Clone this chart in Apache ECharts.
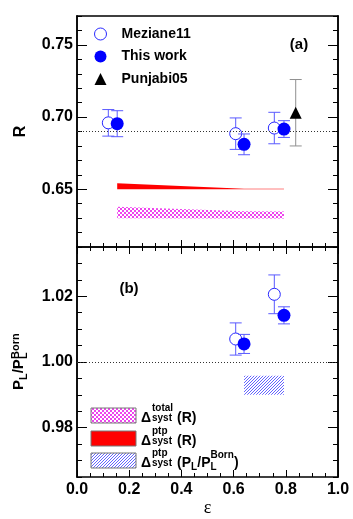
<!DOCTYPE html>
<html>
<head>
<meta charset="utf-8">
<script src="https://cdn.jsdelivr.net/npm/echarts@6/dist/echarts.min.js"></script>
<style>
  html, body { margin: 0; padding: 0; background: #fff; }
  #main { width: 353px; height: 519px; }
</style>
</head>
<body>
<div id="main"></div>
<script>
// panel (a): R vs epsilon
var mezEpsR = [0.12, 0.608, 0.756];
var mezR = [0.696, 0.6885, 0.6924];
var mezRErr = [0.0092, 0.0109, 0.0109];
var thisEpsR = [0.154, 0.64, 0.793];
var thisR = [0.6954, 0.6811, 0.6917];
var thisRErr = [0.009, 0.0072, 0.0058];
var punjEps = [0.838];
var punjR = [0.703];
var punjErr = [0.023];
var refR = 0.689;

// systematic bands in (a)
var bandEps = [0.154, 0.64, 0.793];
var totLo = [0.6300, 0.6298, 0.6298];
var totHi = [0.6378, 0.6347, 0.6346];
var ptpLo = [0.6500, 0.6500, 0.6500];
var ptpHi = [0.6541, 0.6504, 0.6503];

// panel (b): P_L / P_L^Born
var mezEpsP = [0.608, 0.756];
var mezP = [1.007, 1.0206];
var mezPErr = [0.0049, 0.0059];
var thisEpsP = [0.64, 0.793];
var thisP = [1.0055, 1.0142];
var thisPErr = [0.0029, 0.0026];
var refP = 1.0;
var pBandEps = [0.64, 0.793];
var pBandLo = [0.990, 0.990];
var pBandHi = [0.9958, 0.9958];

// axes
var xTicks = [0, 1, 0.2];
var rRange = [0.61, 0.77];
var rMajor = [0.65, 0.70, 0.75];
var rMinorStep = 0.01;
var pRange = [0.965, 1.035];
var pMajor = [0.98, 1.00, 1.02];
var pMinorStep = 0.005;

var myChart = echarts.init(document.getElementById('main'));

function tile(size, draw) {
  var c = document.createElement('canvas');
  c.width = size; c.height = size;
  var g = c.getContext('2d');
  g.fillStyle = '#ffffff'; g.fillRect(0, 0, size, size);
  draw(g);
  return { image: c, repeat: 'repeat' };
}
var pinkFill = tile(4, function (g) {
  g.fillStyle = '#ee44ee';
  g.fillRect(0, 0, 2, 2); g.fillRect(2, 2, 2, 2);
});
var blueFill = tile(3, function (g) {
  g.fillStyle = 'rgb(100,100,255)';
  for (var i = 0; i < 3; i++) g.fillRect(i, 2 - i, 1, 1);
});

function zip3(a, b, c) {
  return a.map(function (v, i) { return [v, b[i], c[i]]; });
}
function zip2(a, b) {
  return a.map(function (v, i) { return [v, b[i]]; });
}

function errRender(color) {
  return function (params, api) {
    var x = api.value(0), y = api.value(1), e = api.value(2);
    var t = api.coord([x, y + e]), b = api.coord([x, y - e]);
    var hw = 6;
    var st = { stroke: color, lineWidth: 1 };
    return { type: 'group', children: [
      { type: 'line', shape: { x1: t[0], y1: t[1], x2: b[0], y2: b[1] }, style: st },
      { type: 'line', shape: { x1: t[0] - hw, y1: t[1], x2: t[0] + hw, y2: t[1] }, style: st },
      { type: 'line', shape: { x1: b[0] - hw, y1: b[1], x2: b[0] + hw, y2: b[1] }, style: st }
    ]};
  };
}
function bandRender(eps, lo, hi, fill) {
  return function (params, api) {
    if (params.dataIndex > 0) return null;
    var pts = [];
    for (var i = 0; i < eps.length; i++) pts.push(api.coord([eps[i], hi[i]]));
    for (var j = eps.length - 1; j >= 0; j--) pts.push(api.coord([eps[j], lo[j]]));
    return { type: 'polygon', shape: { points: pts }, style: { fill: fill } };
  };
}

var black = '#000';
var lineSt = { show: true, lineStyle: { color: black, width: 1.5 } };
var bold16 = { fontFamily: 'Liberation Sans', fontWeight: 'bold', fontSize: 16, color: black };

function xAxis(grid, pos, ticks, labels) {
  return {
    type: 'value', gridIndex: grid, position: pos,
    min: xTicks[0], max: xTicks[1], interval: xTicks[2],
    axisLine: lineSt,
    axisTick: { show: ticks, inside: true, length: 7, lineStyle: { color: black } },
    minorTick: { show: ticks, splitNumber: 4, length: 4, lineStyle: { color: black } },
    axisLabel: { show: labels, margin: 5, formatter: function (v) { return v.toFixed(1); }, textStyle: bold16 },
    splitLine: { show: false }
  };
}
function yMajor(grid, pos, range, major, label) {
  return {
    type: 'value', gridIndex: grid, position: pos,
    min: range[0], max: range[1],
    axisLine: lineSt,
    axisTick: { inside: true, length: 10, customValues: major, lineStyle: { color: black } },
    axisLabel: { show: label, customValues: major, margin: 4,
      formatter: function (v) { return v.toFixed(2); }, textStyle: bold16 },
    splitLine: { show: false }
  };
}
function yMinor(grid, pos, range, step) {
  return {
    type: 'value', gridIndex: grid, position: pos,
    min: range[0], max: range[1], interval: step,
    axisLine: lineSt,
    axisTick: { inside: true, length: 5, lineStyle: { color: black } },
    axisLabel: { show: false },
    splitLine: { show: false }
  };
}

var yAxes = [
  yMajor(0, 'left', rRange, rMajor, true),
  yMinor(0, 'left', rRange, rMinorStep),
  yMajor(0, 'right', rRange, rMajor, false),
  yMinor(0, 'right', rRange, rMinorStep),
  yMajor(1, 'left', pRange, pMajor, true),
  yMinor(1, 'left', pRange, pMinorStep),
  yMajor(1, 'right', pRange, pMajor, false),
  yMinor(1, 'right', pRange, pMinorStep)
];
yAxes[0].name = 'R';
yAxes[0].nameLocation = 'middle';
yAxes[0].nameRotate = 90;
yAxes[0].nameGap = 48;
yAxes[0].nameTextStyle = bold16;

var xAxes = [
  xAxis(0, 'bottom', true, false),
  xAxis(0, 'top', false, false),
  xAxis(1, 'bottom', true, true),
  xAxis(1, 'top', true, false)
];
xAxes[2].name = 'ε';
xAxes[2].nameLocation = 'middle';
xAxes[2].nameGap = 18;
xAxes[2].nameTextStyle = { fontFamily: 'Liberation Serif', fontSize: 18, color: black };

var blueErr = '#5a5aff';
var dotted = function (v) {
  return { silent: true, symbol: 'none', label: { show: false },
    lineStyle: { type: [1, 2], color: '#333', width: 1 }, data: [{ yAxis: v }] };
};
var openStyle = { color: '#ffffff', borderColor: '#2a2aff', borderWidth: 1, opacity: 1 };
var fullStyle = { color: '#0000ff', opacity: 1 };

var series = [
  { type: 'custom', name: 'totR', xAxisIndex: 0, yAxisIndex: 0, z: 1,
    renderItem: bandRender(bandEps, totLo, totHi, pinkFill), data: zip2(bandEps, totHi) },
  { type: 'custom', name: 'ptpR', xAxisIndex: 0, yAxisIndex: 0, z: 1,
    renderItem: bandRender(bandEps, ptpLo, ptpHi, '#ff0000'), data: zip2(bandEps, ptpHi) },
  { type: 'custom', name: 'mezErrR', xAxisIndex: 0, yAxisIndex: 0, z: 2,
    renderItem: errRender(blueErr), encode: { x: 0, y: 1 }, data: zip3(mezEpsR, mezR, mezRErr) },
  { type: 'scatter', name: 'Meziane11', xAxisIndex: 0, yAxisIndex: 0, z: 3,
    symbol: 'circle', symbolSize: 12, itemStyle: openStyle,
    data: zip2(mezEpsR, mezR) },
  { type: 'custom', name: 'thisErrR', xAxisIndex: 0, yAxisIndex: 0, z: 4,
    renderItem: errRender(blueErr), encode: { x: 0, y: 1 }, data: zip3(thisEpsR, thisR, thisRErr) },
  { type: 'scatter', name: 'This work', xAxisIndex: 0, yAxisIndex: 0, z: 5,
    symbol: 'circle', symbolSize: 13, itemStyle: fullStyle,
    data: zip2(thisEpsR, thisR), markLine: dotted(refR) },
  { type: 'custom', name: 'punjErr', xAxisIndex: 0, yAxisIndex: 0, z: 4,
    renderItem: errRender('#909090'), encode: { x: 0, y: 1 }, data: zip3(punjEps, punjR, punjErr) },
  { type: 'scatter', name: 'Punjabi05', xAxisIndex: 0, yAxisIndex: 0, z: 5,
    symbol: 'triangle', symbolSize: 12, itemStyle: { color: black, opacity: 1 },
    data: zip2(punjEps, punjR) },

  { type: 'custom', name: 'ptpP', xAxisIndex: 2, yAxisIndex: 4, z: 1,
    renderItem: bandRender(pBandEps, pBandLo, pBandHi, blueFill), data: zip2(pBandEps, pBandHi) },
  { type: 'custom', name: 'mezErrP', xAxisIndex: 2, yAxisIndex: 4, z: 2,
    renderItem: errRender(blueErr), encode: { x: 0, y: 1 }, data: zip3(mezEpsP, mezP, mezPErr) },
  { type: 'scatter', name: 'Meziane11', xAxisIndex: 2, yAxisIndex: 4, z: 3,
    symbol: 'circle', symbolSize: 12, itemStyle: openStyle,
    data: zip2(mezEpsP, mezP) },
  { type: 'custom', name: 'thisErrP', xAxisIndex: 2, yAxisIndex: 4, z: 4,
    renderItem: errRender(blueErr), encode: { x: 0, y: 1 }, data: zip3(thisEpsP, thisP, thisPErr) },
  { type: 'scatter', name: 'This work', xAxisIndex: 2, yAxisIndex: 4, z: 5,
    symbol: 'circle', symbolSize: 13, itemStyle: fullStyle,
    data: zip2(thisEpsP, thisP), markLine: dotted(refP) }
];

// text helpers for the graphic labels
function txt(s, x, y, size, align) {
  return { type: 'text', x: x, y: y, style: { text: s, fill: black,
    font: 'bold ' + size + 'px "Liberation Sans"', textAlign: align || 'left', verticalAlign: 'middle' } };
}
function legendRow(base, fill, sup, tail) {
  var items = [
    { type: 'rect', shape: { x: 91, y: base - 15, width: 45, height: 15 },
      style: { fill: fill, stroke: '#777', lineWidth: 1 } },
    txt('Δ', 141, base - 5, 14),
    txt(sup, 152, base - 14.5, 10),
    txt('syst', 152, base - 4.5, 10)
  ];
  return items.concat(tail);
}
var rowPL = [
  txt('(P', 177, 463.5, 14),
  txt('L', 191, 467, 10),
  txt('/P', 197.3, 463.5, 14),
  txt('L', 210.5, 467, 10),
  txt('Born', 210.5, 455.5, 10),
  txt(')', 234, 463.5, 14)
];

var graphics = [].concat(
  legendRow(423, pinkFill, 'total', [txt('(R)', 177, 418, 14)]),
  legendRow(446, '#ff0000', 'ptp', [txt('(R)', 177, 441, 14)]),
  legendRow(468, blueFill, 'ptp', rowPL),
  [
    txt('(a)', 299, 44.5, 15, 'center'),
    txt('(b)', 129, 289, 15, 'center'),
    { type: 'group', x: 24, y: 390, rotation: Math.PI / 2, children: [
      txt('P', 0, -5.5, 15),
      txt('L', 10, -0.5, 11),
      txt('/P', 16.7, -5.5, 15),
      txt('L', 31, -0.5, 11),
      txt('Born', 31, -8, 11)
    ]}
  ]
);

var option = {
  animation: false,
  backgroundColor: '#fff',
  grid: [
    { left: 77, top: 16, width: 261, height: 231 },
    { left: 77, top: 247, width: 261, height: 230 }
  ],
  legend: {
    orient: 'vertical', left: 89, top: 22,
    itemWidth: 12, itemHeight: 12, itemGap: 8.5,
    textStyle: { fontFamily: 'Liberation Sans', fontWeight: 'bold', fontSize: 14, color: black, padding: [0, 0, 0, 10] },
    data: [
      { name: 'Meziane11', icon: 'circle', itemStyle: { color: '#ffffff', borderColor: '#2a2aff', borderWidth: 1 } },
      { name: 'This work', icon: 'circle' },
      { name: 'Punjabi05', icon: 'triangle' }
    ]
  },
  xAxis: xAxes,
  yAxis: yAxes,
  series: series,
  graphic: graphics
};
myChart.setOption(option);
</script>
</body>
</html>
